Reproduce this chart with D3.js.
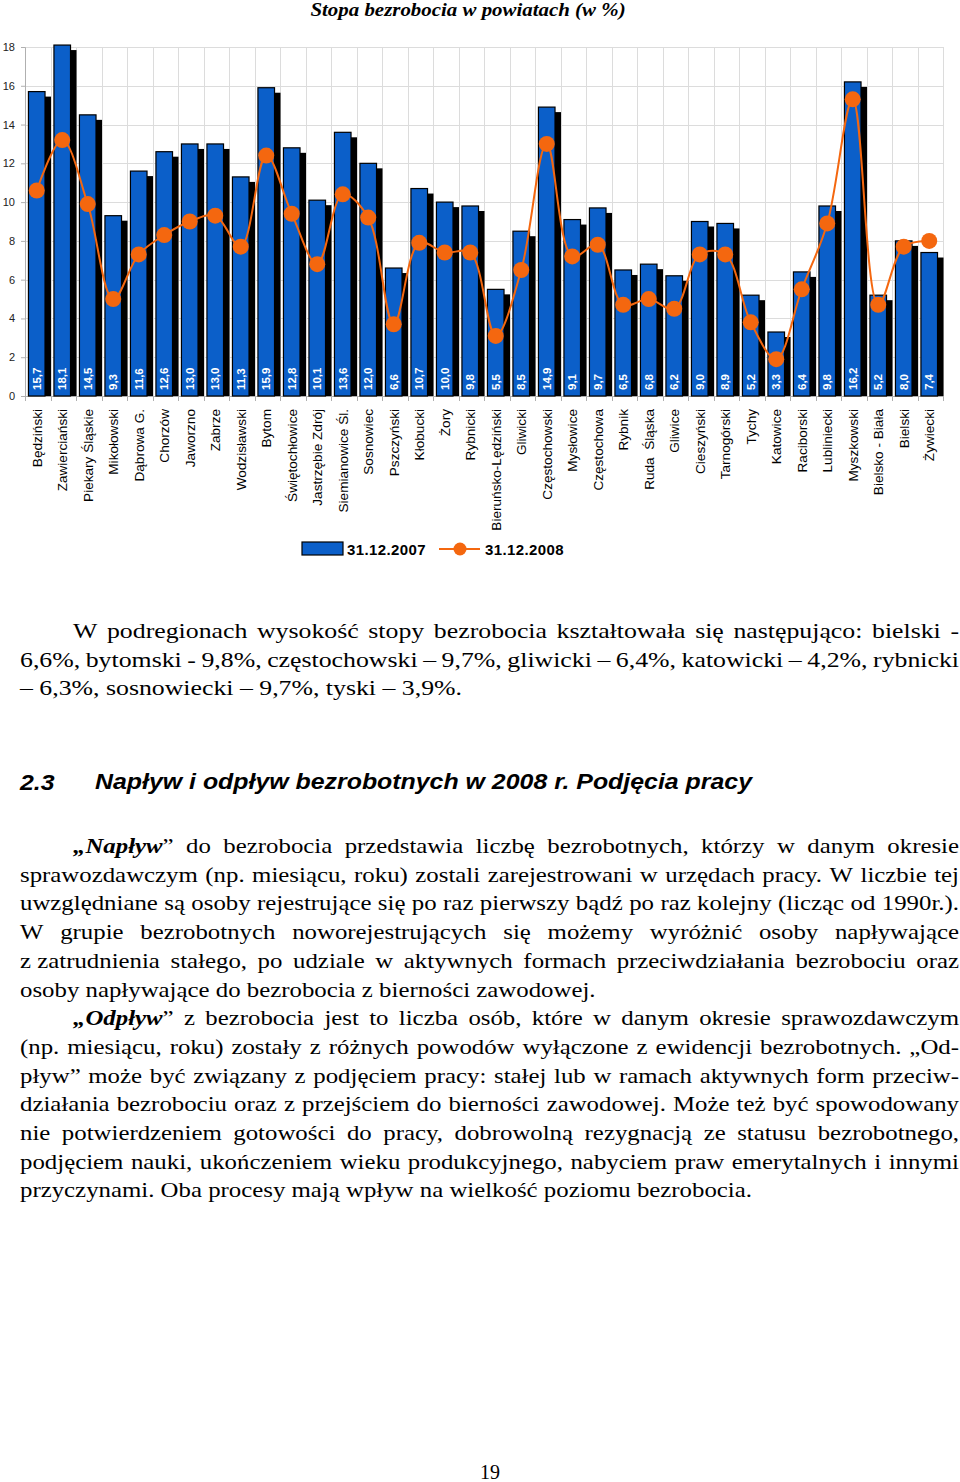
<!DOCTYPE html>
<html><head><meta charset="utf-8">
<script src="https://cdn.jsdelivr.net/npm/d3@7"></script>
<style>
body{margin:0;width:960px;height:1482px;background:#fff;overflow:hidden}
svg{display:block}
</style></head><body>
<svg id="page" width="960" height="1482"></svg>
<script>
const chartTitle = "Stopa bezrobocia w powiatach (w %)";
const categories = ["Będziński","Zawierciański","Piekary Śląskie","Mikołowski","Dąbrowa G.","Chorzów","Jaworzno","Zabrze","Wodzisławski","Bytom","Świętochłowice","Jastrzębie Zdrój","Siemianowice Śl.","Sosnowiec","Pszczyński","Kłobucki","Żory","Rybnicki","Bieruńsko-Lędziński","Gliwicki","Częstochowski","Mysłowice","Częstochowa","Rybnik","Ruda\u00a0\u00a0Śląska","Gliwice","Cieszyński","Tarnogórski","Tychy","Katowice","Raciborski","Lubliniecki","Myszkowski","Bielsko - Biała","Bielski","Żywiecki"];
const values2007 = [15.7,18.1,14.5,9.3,11.6,12.6,13.0,13.0,11.3,15.9,12.8,10.1,13.6,12.0,6.6,10.7,10.0,9.8,5.5,8.5,14.9,9.1,9.7,6.5,6.8,6.2,9.0,8.9,5.2,3.3,6.4,9.8,16.2,5.2,8.0,7.4];
const values2008 = [10.6,13.2,9.9,5.0,7.3,8.3,9.0,9.3,7.7,12.4,9.4,6.8,10.4,9.2,3.7,7.9,7.4,7.4,3.1,6.5,13.0,7.2,7.8,4.7,5.0,4.5,7.3,7.3,3.8,1.9,5.5,8.9,15.3,4.7,7.7,8.0];
const yTicks = [0,2,4,6,8,10,12,14,16,18];
const seriesNames = ["31.12.2007","31.12.2008"];

const headingNumber = "2.3";
const headingText = "Napływ i odpływ bezrobotnych w 2008 r. Podjęcia pracy";
const para1 = [
 {y:631, ind:true, j:true, t:"W podregionach wysokość stopy bezrobocia kształtowała się następująco: bielski -"},
 {y:660, ind:false, j:true, t:"6,6%, bytomski - 9,8%, częstochowski – 9,7%, gliwicki – 6,4%, katowicki – 4,2%, rybnicki"},
 {y:688, ind:false, j:false, t:"– 6,3%, sosnowiecki – 9,7%, tyski – 3,9%."}
];
const para2 = [
 {y:846, ind:true, j:true, t:"*„Napływ*” do bezrobocia przedstawia liczbę bezrobotnych, którzy w danym okresie"},
 {y:875, ind:false, j:true, t:"sprawozdawczym (np. miesiącu, roku) zostali zarejestrowani w urzędach pracy. W liczbie tej"},
 {y:903, ind:false, j:true, t:"uwzględniane są osoby rejestrujące się po raz pierwszy bądź po raz kolejny (licząc od 1990r.)."},
 {y:932, ind:false, j:true, t:"W grupie bezrobotnych noworejestrujących się możemy wyróżnić osoby napływające"},
 {y:961, ind:false, j:true, t:"z\u00a0zatrudnienia stałego, po udziale w aktywnych formach przeciwdziałania bezrobociu oraz"},
 {y:990, ind:false, j:false, t:"osoby napływające do bezrobocia z bierności zawodowej."},
 {y:1018, ind:true, j:true, t:"*„Odpływ*” z bezrobocia jest to liczba osób, które w danym okresie sprawozdawczym"},
 {y:1047, ind:false, j:true, t:"(np. miesiącu, roku) zostały z różnych powodów wyłączone z ewidencji bezrobotnych. „Od-"},
 {y:1076, ind:false, j:true, t:"pływ” może być związany z podjęciem pracy: stałej lub w ramach aktywnych form przeciw-"},
 {y:1104, ind:false, j:true, t:"działania bezrobociu oraz z przejściem do bierności zawodowej. Może też być spowodowany"},
 {y:1133, ind:false, j:true, t:"nie potwierdzeniem gotowości do pracy, dobrowolną rezygnacją ze statusu bezrobotnego,"},
 {y:1162, ind:false, j:true, t:"podjęciem nauki, ukończeniem wieku produkcyjnego, nabyciem praw emerytalnych i innymi"},
 {y:1190, ind:false, j:false, t:"przyczynami. Oba procesy mają wpływ na wielkość poziomu bezrobocia."}
];
const pageNumber = "19";

const SANS = "Liberation Sans, Arial, sans-serif";
const SERIF = "Liberation Serif, Times New Roman, serif";
const BLUE = "#0b5fc9", ORANGE = "#f4670f";
const svg = d3.select("#page");
const L = 25, R = 943, T = 47, B = 396;
const x = d3.scaleBand().domain(categories).range([L, R]).padding(0);
const y = d3.scaleLinear().domain([0, 18]).range([B, T]);
const bw = x.bandwidth();
const barOff = bw * 0.135, barW = bw * 0.65;
const cx = c => x(c) + barOff + barW / 2;
const fmt = v => d3.format(".1f")(v).replace(".", ",");

// title
svg.append("text").attr("transform", "translate(468,16) scale(1.1,1)").attr("text-anchor", "middle")
  .attr("font-family", SERIF).attr("font-weight", "bold")
  .attr("font-style", "italic").attr("font-size", 19).text(chartTitle);

// grid
const grid = svg.append("g").attr("stroke", "#dcdcdc").attr("stroke-width", 1);
grid.selectAll("line.h").data(yTicks).join("line").attr("class", "h")
  .attr("x1", L).attr("x2", R).attr("y1", d => Math.round(y(d)) + 0.5).attr("y2", d => Math.round(y(d)) + 0.5);
const bounds = categories.map(c => x(c)).concat([R]);
grid.selectAll("line.v").data(bounds).join("line").attr("class", "v")
  .attr("x1", d => Math.round(d) + 0.5).attr("x2", d => Math.round(d) + 0.5).attr("y1", T).attr("y2", B);

// y axis
const yAxis = svg.append("g").attr("transform", `translate(${L},0)`)
  .call(d3.axisLeft(y).tickValues(yTicks).tickSize(4).tickPadding(6).tickFormat(d3.format("d")));
yAxis.select(".domain").attr("stroke", "#b0b0b0");
yAxis.selectAll(".tick line").attr("stroke", "#b0b0b0");
yAxis.selectAll("text").attr("font-family", SANS).attr("font-size", 11).attr("fill", "#222");

// x axis
const xAxis = svg.append("g").attr("transform", `translate(0,${B})`)
  .call(d3.axisBottom(x).tickSize(0).tickPadding(0));
xAxis.select(".domain").attr("stroke", "#b0b0b0");
xAxis.selectAll(".tick").attr("transform", d => `translate(${cx(d)},0)`);
xAxis.selectAll(".tick text").attr("transform", "rotate(-90)").attr("x", -13).attr("y", 0)
  .attr("dy", "0.36em").attr("text-anchor", "end")
  .attr("font-family", SANS).attr("font-size", 13.6).attr("fill", "#000");
svg.append("g").attr("stroke", "#b0b0b0").selectAll("line").data(bounds).join("line")
  .attr("x1", d => Math.round(d) + 0.5).attr("x2", d => Math.round(d) + 0.5).attr("y1", B).attr("y2", B + 5);

// bars
const data = categories.map((c, i) => ({c, v: values2007[i], w: values2008[i]}));
svg.append("g").selectAll("rect").data(data).join("rect")
  .attr("x", d => x(d.c) + barOff + 6).attr("y", d => y(d.v) + 5)
  .attr("width", barW).attr("height", d => B - y(d.v) - 5).attr("fill", "#000");
svg.append("g").selectAll("rect").data(data).join("rect")
  .attr("x", d => x(d.c) + barOff).attr("y", d => y(d.v))
  .attr("width", barW).attr("height", d => B - y(d.v))
  .attr("fill", BLUE).attr("stroke", "#000").attr("stroke-width", 1.2);
svg.append("g").selectAll("text").data(data).join("text")
  .attr("transform", d => `translate(${cx(d.c)},${B - 6}) rotate(-90)`)
  .attr("dy", "0.36em").attr("fill", "#fff").attr("font-weight", "bold")
  .attr("font-family", SANS).attr("font-size", 11.5)
  .text(d => fmt(d.v));

// line
const line = d3.line().x(d => cx(d.c)).y(d => y(d.w)).curve(d3.curveCatmullRom.alpha(0.5));
svg.append("path").datum(data).attr("d", line).attr("fill", "none").attr("stroke", ORANGE).attr("stroke-width", 2);
svg.append("g").selectAll("circle").data(data).join("circle")
  .attr("cx", d => cx(d.c)).attr("cy", d => y(d.w)).attr("r", 8).attr("fill", ORANGE);

// legend
const lg = svg.append("g").attr("font-family", SANS).attr("font-weight", "bold").attr("font-size", 15);
lg.append("rect").attr("x", 302).attr("y", 542).attr("width", 41).attr("height", 13).attr("fill", BLUE).attr("stroke", "#000").attr("stroke-width", 1.2);
lg.append("text").attr("x", 347).attr("y", 555).attr("letter-spacing", 0.4).text(seriesNames[0]);
lg.append("line").attr("x1", 439).attr("x2", 480).attr("y1", 549).attr("y2", 549).attr("stroke", ORANGE).attr("stroke-width", 2);
lg.append("circle").attr("cx", 460).attr("cy", 549).attr("r", 6.5).attr("fill", ORANGE);
lg.append("text").attr("x", 485).attr("y", 555).attr("letter-spacing", 0.4).text(seriesNames[1]);

// ---------- text blocks: per-word layout using canvas metrics ----------
const LEFT = 20, RIGHT = 959, INDENT = 73, FS = 22;
const ctx = document.createElement("canvas").getContext("2d");
function segs(str) { return str.split(/(\*[^*]+\*)/).filter(Boolean).map(s => s.startsWith("*") ? {bi: true, t: s.slice(1, -1)} : {bi: false, t: s}); }
function words(str) {
  // split into words while keeping bold-italic markers per word
  const out = []; let cur = [];
  segs(str).forEach(s => {
    const parts = s.t.split(" ");
    parts.forEach((p, i) => {
      if (i > 0) { out.push(cur); cur = []; }
      if (p) cur.push({bi: s.bi, t: p});
    });
  });
  out.push(cur);
  return out.filter(w => w.length);
}
function cw(segList, family, base) {
  return d3.sum(segList, s => {
    ctx.font = (s.bi || base ? "italic bold " : "") + FS + "px " + family;
    return ctx.measureText(s.t).width;
  });
}
function placeWords(g, ws, widths, gap, family, allBI) {
  let xp = 0;
  ws.forEach((w, i) => {
    const t = g.append("text").attr("x", xp).attr("dy", "0.32em")
      .attr("textLength", widths[i]).attr("lengthAdjust", "spacingAndGlyphs");
    w.forEach(s => {
      const ts = t.append("tspan").text(s.t);
      if (s.bi && !allBI) ts.attr("font-weight", "bold").attr("font-style", "italic");
    });
    xp += widths[i] + gap;
  });
}
function addPara(lines, lastTarget, sxDefault) {
  const spaceW = FS * 0.25;
  const last = lines[lines.length - 1];
  const lw = words(last.t).map(w => cw(w, "'Liberation Serif'"));
  let sx = lastTarget / (d3.sum(lw) + spaceW * (lw.length - 1));
  if (!isFinite(sx) || sx < 1.0 || sx > 1.3) sx = sxDefault;
  lines.forEach(l => {
    const left = l.ind ? INDENT : LEFT;
    const ws = words(l.t);
    const widths = ws.map(w => cw(w, "'Liberation Serif'"));
    const avail = (RIGHT - left) / sx;
    const gap = l.j ? Math.max(spaceW * 0.5, (avail - d3.sum(widths)) / (ws.length - 1)) : spaceW;
    const g = svg.append("g").attr("transform", `translate(${left},${l.y}) scale(${sx},1)`)
      .attr("font-family", SERIF).attr("font-size", FS).attr("fill", "#000");
    placeWords(g, ws, widths, gap, SERIF, false);
  });
}
addPara(para1, 442, 1.17);
addPara(para2, 732, 1.13);

// heading
{
  const hw = words(headingText);
  const widths = hw.map(w => cw(w, "'Liberation Sans'", true));
  const spaceW = FS * 0.278;
  let hs = (752 - 95) / (d3.sum(widths) + spaceW * (hw.length - 1));
  if (!isFinite(hs) || hs < 1.0 || hs > 1.3) hs = 1.13;
  const hg = svg.append("g").attr("font-family", SANS).attr("font-weight", "bold").attr("font-style", "italic").attr("font-size", FS);
  hg.append("text").attr("transform", `translate(20,790) scale(${hs},1)`).text(headingNumber);
  const g2 = hg.append("g").attr("transform", `translate(95,782) scale(${hs},1)`);
  placeWords(g2, hw, widths, spaceW, SANS, true);
}

svg.append("text").attr("x", 490).attr("y", 1479).attr("text-anchor", "middle")
  .attr("font-family", SERIF).attr("font-size", 20).text(pageNumber);
</script>
</body></html>
